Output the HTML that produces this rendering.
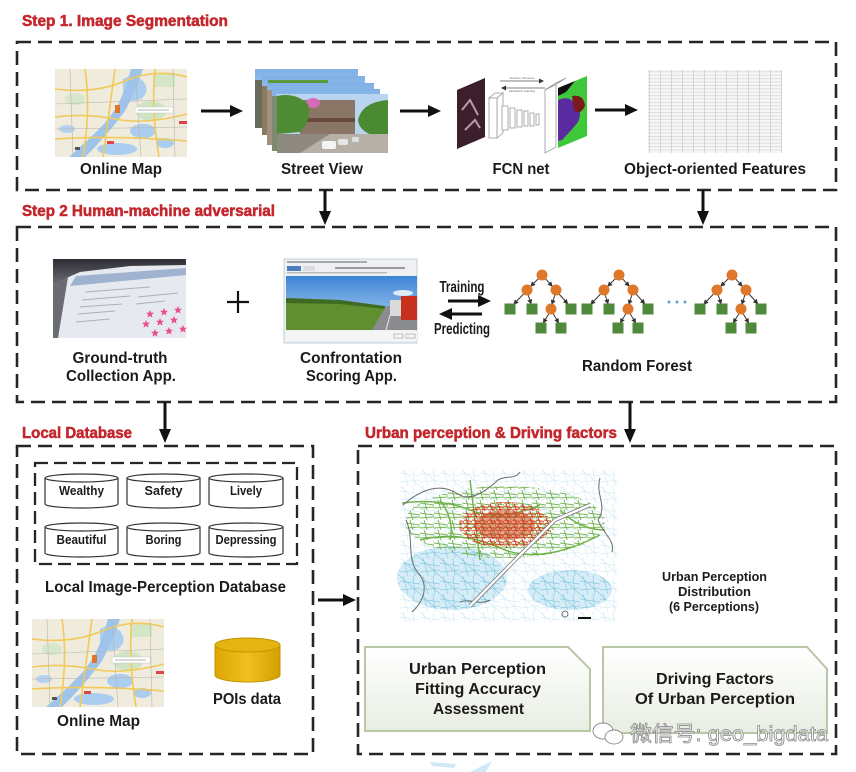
<!DOCTYPE html>
<html><head><meta charset="utf-8">
<style>
html,body{margin:0;padding:0;background:#fff;}
svg{display:block;}
text{font-family:"Liberation Sans","Noto Sans CJK SC",sans-serif;}
.t{font-weight:700;fill:#c3272d;font-size:16px;stroke:#c3272d;stroke-width:0.55px;}
.l{font-weight:700;fill:#1b1b1b;font-size:16px;text-anchor:middle;}
.s{font-weight:700;fill:#1b1b1b;font-size:13px;text-anchor:middle;}
</style></head>
<body>
<svg width="856" height="772" viewBox="0 0 856 772" xmlns="http://www.w3.org/2000/svg">
<defs>
 <marker id="ah" markerWidth="5" markerHeight="5" refX="4" refY="2.5" orient="auto" markerUnits="userSpaceOnUse">
  <path d="M0,0 L5,2.5 L0,5 z" fill="#333"/>
 </marker>
 <linearGradient id="gb" x1="0" y1="0" x2="0" y2="1">
  <stop offset="0" stop-color="#ffffff"/><stop offset="1" stop-color="#e8ede2"/>
 </linearGradient>
 <linearGradient id="sky" x1="0" y1="0" x2="0" y2="1">
  <stop offset="0" stop-color="#7fb0e6"/><stop offset="1" stop-color="#d2e5f6"/>
 </linearGradient>
 <linearGradient id="sky2" x1="0" y1="0" x2="0" y2="1">
  <stop offset="0" stop-color="#3d84d6"/><stop offset="1" stop-color="#b8d6f1"/>
 </linearGradient>
 <linearGradient id="gold" x1="0" y1="0" x2="1" y2="0">
  <stop offset="0" stop-color="#dca600"/><stop offset="0.5" stop-color="#f0c020"/><stop offset="1" stop-color="#d59f00"/>
 </linearGradient>
 <linearGradient id="bez" x1="0" y1="0" x2="0" y2="1">
  <stop offset="0" stop-color="#2e2e34"/><stop offset="1" stop-color="#6a6c72"/>
 </linearGradient>
 <pattern id="grid" width="11" height="3.4" patternUnits="userSpaceOnUse">
  <rect width="11" height="3.4" fill="#f6f6f6"/>
  <line x1="0" y1="0.3" x2="11" y2="0.3" stroke="#d2d2d2" stroke-width="0.7"/>
  <line x1="0.3" y1="0" x2="0.3" y2="3.4" stroke="#c4c4c4" stroke-width="0.7"/>
 </pattern>
 <pattern id="bnet" width="20" height="18" patternUnits="userSpaceOnUse">
  <path d="M0 5 L20 8 M3 0 L8 18 M13 0 L15 18 M0 14 L20 12 M0 0 L20 18" stroke="#8ccbe3" stroke-width="0.7" fill="none"/>
 </pattern>
 <pattern id="gnet" width="14" height="10" patternUnits="userSpaceOnUse">
  <path d="M0 3 L14 5 M4 0 L7 10 M0 8 L14 7" stroke="#6cb043" stroke-width="1" fill="none"/>
 </pattern>
 <pattern id="rnet" width="8" height="7" patternUnits="userSpaceOnUse">
  <path d="M0 2 L8 3.5 M2 0 L5 7 M0 6 L8 5" stroke="#d0461f" stroke-width="1.1" fill="none"/>
 </pattern>
 <path id="star" d="M0,-4 L1.2,-1.3 L4,-1.2 L1.8,0.7 L2.5,3.6 L0,2 L-2.5,3.6 L-1.8,0.7 L-4,-1.2 L-1.2,-1.3 z" fill="#e9508f"/>
 <g id="omap">
  <rect width="132" height="88" fill="#efebdd"/>
  <rect x="98" y="4" width="22" height="14" fill="#d3e6c6"/>
  <ellipse cx="96" cy="42" rx="15" ry="10" fill="#cfe4c2"/>
  <ellipse cx="20" cy="30" rx="10" ry="6" fill="#d6e8cb"/>
  <path d="M68 10 q10 -6 20 2 q8 10 -2 18 q-14 5 -18 -6z" fill="#aacdf0"/>
  <ellipse cx="88" cy="62" rx="13" ry="7" fill="#aacdf0"/>
  <ellipse cx="62" cy="80" rx="20" ry="6" fill="#aacdf0"/>
  <ellipse cx="110" cy="74" rx="9" ry="5" fill="#aacdf0"/>
  <ellipse cx="12" cy="60" rx="8" ry="4" fill="#b5d3f0"/>
  <path d="M14 88 L34 70 L50 54 L62 38 L70 20 L76 0 L88 0 L80 22 L70 42 L56 60 L40 78 L30 88 Z" fill="#9fc4ec"/>
  <g stroke="#f2ca5a" stroke-width="1.6" fill="none">
   <path d="M0 20 Q40 25 70 12 T132 8"/>
   <path d="M0 48 Q30 44 60 50 T132 45"/>
   <path d="M30 0 Q36 40 28 88"/>
   <path d="M100 0 Q96 40 104 88"/>
   <path d="M0 70 Q60 66 132 72"/>
   <path d="M60 0 L48 88"/>
  </g>
  <g stroke="#b9b6ae" stroke-width="0.6" fill="none">
   <path d="M0 35 L132 30 M0 60 L132 58 M15 0 L18 88 M80 0 L86 88 M118 0 L120 88"/>
  </g>
  <rect x="60" y="36" width="5" height="8" fill="#e0742c"/>
  <rect x="80" y="38" width="38" height="6" fill="#fff" stroke="#c8c8c8" stroke-width="0.5"/>
  <line x1="83" y1="41" x2="114" y2="41" stroke="#999" stroke-width="0.8"/>
  <rect x="124" y="52" width="8" height="3" fill="#e04545"/>
  <rect x="52" y="72" width="7" height="3" fill="#e04545"/>
  <rect x="20" y="78" width="5" height="3" fill="#555"/>
 </g>
</defs>

<rect width="856" height="772" fill="#fff"/>

<!-- Titles -->
<text class="t" font-weight="700" x="22" y="26" textLength="206" lengthAdjust="spacingAndGlyphs">Step 1. Image Segmentation</text>
<text class="t" font-weight="700" x="22" y="216" textLength="253" lengthAdjust="spacingAndGlyphs">Step 2 Human-machine adversarial</text>
<text class="t" font-weight="700" x="22" y="438" textLength="110" lengthAdjust="spacingAndGlyphs">Local Database</text>
<text class="t" font-weight="700" x="365" y="438" textLength="252" lengthAdjust="spacingAndGlyphs">Urban perception &amp; Driving factors</text>

<!-- Dashed boxes -->
<g fill="none" stroke="#262626" stroke-width="2.6" stroke-dasharray="14 7">
 <rect x="17" y="42" width="819" height="148"/>
 <rect x="17" y="227" width="819" height="175"/>
 <rect x="17" y="446" width="296" height="308"/>
 <rect x="358" y="446" width="478" height="308"/>
</g>
<rect x="35" y="463" width="262" height="101" fill="none" stroke="#262626" stroke-width="2.3" stroke-dasharray="13 6"/>

<!-- Step1 images -->
<use href="#omap" x="55" y="69"/>

<!-- street view stack -->
<g>
 <rect x="255" y="69" width="103" height="59" fill="url(#sky)"/>
 <rect x="255" y="80" width="10" height="48" fill="#6a6a5a"/>
 <rect x="262" y="76" width="103" height="59" fill="url(#sky)"/>
 <rect x="268" y="80" width="60" height="6" fill="#5a9a3a"/>
 <rect x="262" y="86" width="9" height="49" fill="#8a7a60"/>
 <rect x="267" y="83" width="107" height="62" fill="url(#sky)"/>
 <rect x="267" y="90" width="8" height="55" fill="#a09080"/>
 <rect x="272" y="89" width="108" height="62" fill="url(#sky)"/>
 <rect x="272" y="96" width="7" height="55" fill="#7d8a70"/>
 <rect x="277" y="94" width="111" height="59" fill="#b8d4ee"/>
 <rect x="300" y="100" width="55" height="38" fill="#8a7664"/>
 <rect x="300" y="118" width="55" height="4" fill="#6a4a3a"/>
 <ellipse cx="313" cy="103" rx="7" ry="5" fill="#d46cb8"/>
 <path d="M277 96 Q295 92 308 104 Q312 120 300 132 L277 134 Z" fill="#4e8c34"/>
 <path d="M388 100 Q362 102 358 120 Q360 136 388 138 Z" fill="#4a8a32"/>
 <rect x="277" y="134" width="111" height="19" fill="#b7b0a6"/>
 <path d="M277 134 L330 134 L300 153 L277 153 Z" fill="#8f8a80"/>
 <rect x="322" y="141" width="14" height="8" rx="2" fill="#f4f4f4"/>
 <rect x="338" y="139" width="10" height="6" rx="2" fill="#e6e6e6"/>
 <rect x="352" y="137" width="7" height="5" rx="1" fill="#ddd"/>
</g>

<!-- FCN -->
<g>
 <polygon points="457,90 485,78 485,137 457,149" fill="#3b1f2c"/>
 <path d="M462 110 L470 100 L478 115 M465 130 L475 120 L480 128" stroke="#b89aa8" stroke-width="2" fill="none"/>
 <g fill="#fff" stroke="#9a9a9a" stroke-width="0.8">
  <polygon points="489,98 497,98 503,93 495,93"/>
  <polygon points="497,98 503,93 503,133 497,138"/>
  <rect x="489" y="98" width="8" height="40"/>
  <rect x="502" y="106" width="6" height="24"/>
  <rect x="510" y="108" width="5" height="20"/>
  <rect x="517" y="110" width="5" height="17"/>
  <rect x="524" y="111" width="4" height="15"/>
  <rect x="530" y="113" width="4" height="13"/>
  <rect x="536" y="114" width="3" height="11"/>
  <polygon points="545,90 556,83 556,147 545,153"/>
  <polygon points="545,90 556,83 566,78 555,85"/>
 </g>
 <line x1="500" y1="81" x2="543" y2="81" stroke="#555" stroke-width="0.8" marker-end="url(#ah)"/>
 <line x1="545" y1="88" x2="502" y2="88" stroke="#555" stroke-width="0.8" marker-end="url(#ah)"/>
 <text x="522" y="79" font-size="3" text-anchor="middle" fill="#666">forward / inference</text>
 <text x="522" y="92" font-size="3" text-anchor="middle" fill="#666">backward / learning</text>
 <polygon points="558,88 587,76 587,136 558,148" fill="#3ec83a"/>
 <path d="M558 100 Q570 95 575 104 Q583 110 578 122 Q570 132 562 140 L558 141 Z" fill="#5a2aa0"/>
 <path d="M572 96 Q584 94 585 106 Q580 116 574 110 Z" fill="#7a1a1a"/>
 <polygon points="558,88 575,81 566,92 558,96" fill="#111"/>
</g>

<!-- table -->
<rect x="648" y="70" width="134" height="83" fill="url(#grid)"/>

<!-- step1 labels -->
<text class="l" x="121" y="174" textLength="82" lengthAdjust="spacingAndGlyphs">Online Map</text>
<text class="l" x="322" y="174" textLength="82" lengthAdjust="spacingAndGlyphs">Street View</text>
<text class="l" x="521" y="174" textLength="57" lengthAdjust="spacingAndGlyphs">FCN net</text>
<text class="l" x="715" y="174" textLength="182" lengthAdjust="spacingAndGlyphs">Object-oriented Features</text>

<!-- arrows -->
<g fill="#111" stroke="#111">
 <line x1="201" y1="111" x2="232" y2="111" stroke-width="3"/><polygon points="230,105 243,111 230,117" stroke="none"/>
 <line x1="400" y1="111" x2="430" y2="111" stroke-width="3"/><polygon points="428,105 441,111 428,117" stroke="none"/>
 <line x1="595" y1="110" x2="627" y2="110" stroke-width="3"/><polygon points="625,104 638,110 625,116" stroke="none"/>
 <line x1="325" y1="190" x2="325" y2="214" stroke-width="3"/><polygon points="319,211 325,225 331,211" stroke="none"/>
 <line x1="703" y1="190" x2="703" y2="214" stroke-width="3"/><polygon points="697,211 703,225 709,211" stroke="none"/>
 <line x1="165" y1="402" x2="165" y2="432" stroke-width="3"/><polygon points="159,429 165,443 171,429" stroke="none"/>
 <line x1="630" y1="402" x2="630" y2="432" stroke-width="3"/><polygon points="624,429 630,443 636,429" stroke="none"/>
 <line x1="318" y1="600" x2="345" y2="600" stroke-width="3"/><polygon points="343,594 356,600 343,606" stroke="none"/>
 <line x1="448" y1="301" x2="480" y2="301" stroke-width="3"/><polygon points="478,295 491,301 478,307" stroke="none"/>
 <line x1="482" y1="314" x2="450" y2="314" stroke-width="3"/><polygon points="452,308 439,314 452,320" stroke="none"/>
 <line x1="227" y1="302" x2="249" y2="302" stroke-width="2.2"/>
 <line x1="238" y1="291" x2="238" y2="313" stroke-width="2.2"/>
</g>

<!-- Ground-truth image -->
<g>
 <rect x="53" y="259" width="133" height="79" fill="#e6eaf0"/>
 <polygon points="53,259 186,259 186,265 130,266 80,272 53,284" fill="url(#bez)"/>
 <polygon points="53,284 68,277 58,338 53,338" fill="#6a6c72"/>
 <polygon points="76,276 186,268 186,275 70,286" fill="#9fb2cf"/>
 <g stroke="#a9b0ba" stroke-width="1">
  <line x1="82" y1="300" x2="130" y2="296"/><line x1="80" y1="307" x2="122" y2="304"/>
  <line x1="78" y1="314" x2="115" y2="311"/><line x1="76" y1="322" x2="110" y2="319"/>
  <line x1="138" y1="297" x2="178" y2="293"/><line x1="136" y1="304" x2="165" y2="301"/>
  <line x1="85" y1="292" x2="150" y2="287"/>
 </g>
 <use href="#star" x="150" y="314"/><use href="#star" x="164" y="312"/><use href="#star" x="178" y="310"/>
 <use href="#star" x="146" y="324"/><use href="#star" x="160" y="322"/><use href="#star" x="174" y="320"/>
 <use href="#star" x="155" y="333"/><use href="#star" x="169" y="331"/><use href="#star" x="183" y="329"/>
</g>

<!-- Confrontation image -->
<g>
 <rect x="284" y="259" width="133" height="84" fill="#eef0f3" stroke="#b8c4d0" stroke-width="0.8"/>
 <rect x="287" y="261" width="80" height="2" fill="#aaa"/>
 <rect x="287" y="266" width="14" height="5" fill="#4a7ec0"/>
 <rect x="303" y="266" width="12" height="5" fill="#ddd"/>
 <rect x="335" y="267" width="70" height="2" fill="#999"/>
 <rect x="287" y="272" width="100" height="1.5" fill="#bbb"/>
 <rect x="286" y="276" width="131" height="54" fill="url(#sky2)"/>
 <ellipse cx="403" cy="293" rx="10" ry="3" fill="#fff" opacity="0.8"/>
 <polygon points="286,300 340,302 385,308 385,330 286,330" fill="#5f8f2e"/>
 <polygon points="286,298 340,300 385,306 385,309 340,304 286,303" fill="#3f6a22"/>
 <polygon points="372,330 386,306 396,306 417,318 417,330" fill="#8a8c90"/>
 <line x1="386" y1="330" x2="392" y2="308" stroke="#fff" stroke-width="0.8"/>
 <rect x="390" y="300" width="12" height="16" fill="#dadada"/>
 <rect x="401" y="296" width="16" height="24" fill="#c8301e"/>
 <rect x="286" y="331" width="131" height="10" fill="#f5f5f5"/>
 <rect x="394" y="334" width="9" height="4" fill="none" stroke="#999" stroke-width="0.6"/>
 <rect x="406" y="334" width="9" height="4" fill="none" stroke="#999" stroke-width="0.6"/>
</g>

<text class="l" x="120" y="363" textLength="95" lengthAdjust="spacingAndGlyphs">Ground-truth</text>
<text class="l" x="121" y="381" textLength="110" lengthAdjust="spacingAndGlyphs">Collection App.</text>
<text class="l" x="351" y="363" textLength="102" lengthAdjust="spacingAndGlyphs">Confrontation</text>
<text class="l" x="351.5" y="381" textLength="91" lengthAdjust="spacingAndGlyphs">Scoring App.</text>
<text class="l" x="462" y="292" font-size="12" textLength="45" lengthAdjust="spacingAndGlyphs">Training</text>
<text class="l" x="462" y="334" font-size="12" textLength="56" lengthAdjust="spacingAndGlyphs">Predicting</text>
<text class="l" x="637" y="371" font-size="15" textLength="110" lengthAdjust="spacingAndGlyphs">Random Forest</text>

<!-- trees -->
<g id="tree" transform="translate(542,275)">
 <g stroke="#333" stroke-width="1" marker-end="url(#ah)">
  <line x1="-3.5" y1="3.5" x2="-11" y2="11"/>
  <line x1="3.5" y1="3.7" x2="10" y2="11"/>
  <line x1="-18.5" y1="19" x2="-28" y2="29"/>
  <line x1="-14" y1="19.5" x2="-11" y2="28.5"/>
  <line x1="13" y1="19.5" x2="10" y2="29"/>
  <line x1="17" y1="19" x2="25.5" y2="28.5"/>
  <line x1="7" y1="38.5" x2="1.5" y2="47.5"/>
  <line x1="11" y1="38.5" x2="16.5" y2="47.5"/>
 </g>
 <g fill="#e0782c">
  <circle cx="0" cy="0" r="5.5"/><circle cx="-15" cy="15" r="5.5"/><circle cx="14" cy="15" r="5.5"/><circle cx="9" cy="34" r="5.5"/>
 </g>
 <g fill="#4f8a3c">
  <rect x="-37.5" y="28.5" width="11" height="11"/><rect x="-15.5" y="28.5" width="11" height="11"/>
  <rect x="23.5" y="28.5" width="11" height="11"/>
  <rect x="-6.5" y="47.5" width="11" height="11"/><rect x="13.5" y="47.5" width="11" height="11"/>
 </g>
</g>
<use href="#tree" x="77" y="0"/>
<use href="#tree" x="190" y="0"/>
<g fill="#6a9fd0"><circle cx="669" cy="302" r="1.5"/><circle cx="677" cy="302" r="1.5"/><circle cx="685" cy="302" r="1.5"/></g>

<!-- cylinders -->
<g fill="#fff" stroke="#333" stroke-width="1.2">
 <path d="M45 478 v26 a36.5 4 0 0 0 73 0 v-26"/><ellipse cx="81.5" cy="478" rx="36.5" ry="4"/>
 <path d="M127 478 v26 a36.5 4 0 0 0 73 0 v-26"/><ellipse cx="163.5" cy="478" rx="36.5" ry="4"/>
 <path d="M209 478 v26 a37 4 0 0 0 74 0 v-26"/><ellipse cx="246" cy="478" rx="37" ry="4"/>
 <path d="M45 527 v26 a36.5 4 0 0 0 73 0 v-26"/><ellipse cx="81.5" cy="527" rx="36.5" ry="4"/>
 <path d="M127 527 v26 a36.5 4 0 0 0 73 0 v-26"/><ellipse cx="163.5" cy="527" rx="36.5" ry="4"/>
 <path d="M209 527 v26 a37 4 0 0 0 74 0 v-26"/><ellipse cx="246" cy="527" rx="37" ry="4"/>
</g>
<text class="s" x="81.5" y="495" textLength="45" lengthAdjust="spacingAndGlyphs">Wealthy</text>
<text class="s" x="163.5" y="495" textLength="38" lengthAdjust="spacingAndGlyphs">Safety</text>
<text class="s" x="246" y="495" textLength="32" lengthAdjust="spacingAndGlyphs">Lively</text>
<text class="s" x="81.5" y="544" textLength="50" lengthAdjust="spacingAndGlyphs">Beautiful</text>
<text class="s" x="163.5" y="544" textLength="36" lengthAdjust="spacingAndGlyphs">Boring</text>
<text class="s" x="246" y="544" textLength="61" lengthAdjust="spacingAndGlyphs">Depressing</text>

<text class="l" x="165.5" y="592" textLength="241" lengthAdjust="spacingAndGlyphs">Local Image-Perception Database</text>

<use href="#omap" x="32" y="619"/>
<text class="l" x="98.5" y="726" textLength="83" lengthAdjust="spacingAndGlyphs">Online Map</text>

<!-- POIs cylinder -->
<path d="M215 645 v30 a32.5 7 0 0 0 65 0 v-30" fill="url(#gold)" stroke="#c49300" stroke-width="1"/>
<ellipse cx="247.5" cy="645" rx="32.5" ry="7" fill="#e6b410" stroke="#c49300" stroke-width="1"/>
<text class="l" x="247" y="704" textLength="68" lengthAdjust="spacingAndGlyphs">POIs data</text>

<!-- urban map -->
<g>
 <rect x="400" y="470" width="217" height="152" fill="#fff"/>
 <rect x="400" y="470" width="217" height="152" fill="url(#bnet)" opacity="0.35"/>
 <ellipse cx="452" cy="578" rx="55" ry="32" fill="#c5e5f3" opacity="0.7"/>
 <ellipse cx="570" cy="590" rx="42" ry="20" fill="#c5e5f3" opacity="0.7"/>
 <ellipse cx="452" cy="578" rx="55" ry="32" fill="url(#bnet)"/>
 <ellipse cx="570" cy="590" rx="42" ry="20" fill="url(#bnet)"/>
 <ellipse cx="505" cy="522" rx="100" ry="36" fill="url(#gnet)" opacity="0.9"/>
 <g stroke="#6cb043" stroke-width="1.4" fill="none">
  <path d="M402 503 Q440 498 470 510 T540 505"/>
  <path d="M420 540 Q460 530 500 548 T600 535"/>
  <path d="M470 480 L480 560"/>
  <path d="M440 500 Q455 520 450 540"/>
  <path d="M560 510 Q580 530 605 530"/>
 </g>
 <ellipse cx="505" cy="525" rx="46" ry="23" fill="url(#rnet)"/>
 <ellipse cx="505" cy="525" rx="30" ry="15" fill="#d0461f" opacity="0.5"/>
 <g stroke="#6b6b6b" stroke-width="1" fill="none">
  <path d="M403 505 C420 490 440 482 458 494 C470 502 485 492 498 480 C505 475 515 480 520 472"/>
  <path d="M600 478 C595 495 608 505 598 520 C604 535 615 540 612 552"/>
  <path d="M406 520 C415 540 405 560 420 575 C430 590 420 605 412 612"/>
  <path d="M460 602 C470 598 478 606 490 600"/>
 </g>
 <path d="M470 606 L520 555 L555 520 L590 505" stroke="#777" stroke-width="4" fill="none"/>
 <path d="M470 606 L520 555 L555 520 L590 505" stroke="#fff" stroke-width="2.4" fill="none"/>
 <circle cx="565" cy="614" r="3" fill="none" stroke="#555" stroke-width="0.8"/>
 <rect x="578" y="617" width="13" height="2" fill="#111"/>
</g>
<text class="s" x="714.5" y="581" font-size="12.5" textLength="105" lengthAdjust="spacingAndGlyphs">Urban Perception</text>
<text class="s" x="714.5" y="596" font-size="12.5" textLength="73" lengthAdjust="spacingAndGlyphs">Distribution</text>
<text class="s" x="714" y="611" font-size="12.5" textLength="90" lengthAdjust="spacingAndGlyphs">(6 Perceptions)</text>

<!-- green boxes -->
<polygon points="365,647 568,647 590,669 590,731 365,731" fill="url(#gb)" stroke="#b8c8a6" stroke-width="2"/>
<polygon points="603,647 807,647 827,669 827,733 603,733" fill="url(#gb)" stroke="#b8c8a6" stroke-width="2"/>
<text class="l" x="477.5" y="674" font-size="17" textLength="137" lengthAdjust="spacingAndGlyphs">Urban Perception</text>
<text class="l" x="478" y="694" font-size="17" textLength="126" lengthAdjust="spacingAndGlyphs">Fitting Accuracy</text>
<text class="l" x="478.5" y="714" font-size="17" textLength="91" lengthAdjust="spacingAndGlyphs">Assessment</text>
<text class="l" x="715" y="684" font-size="17" textLength="118" lengthAdjust="spacingAndGlyphs">Driving Factors</text>
<text class="l" x="715" y="704" font-size="17" textLength="160" lengthAdjust="spacingAndGlyphs">Of Urban Perception</text>

<!-- watermark -->
<g fill="#fff" stroke="#8a8a8a" stroke-width="0.9">
 <ellipse cx="603" cy="731" rx="10" ry="8"/>
 <ellipse cx="614" cy="737" rx="9" ry="7"/>
</g>
<text x="630" y="741" font-size="21" fill="#fff" stroke="#8a8a8a" stroke-width="0.8" textLength="198" lengthAdjust="spacingAndGlyphs">微信号: geo_bigdata</text>
<polygon points="430,762 456,764 454,768 432,766" fill="#cfe9f7"/>
<polygon points="470,772 492,761 486,772" fill="#cfe9f7"/>
</svg>
</body></html>
